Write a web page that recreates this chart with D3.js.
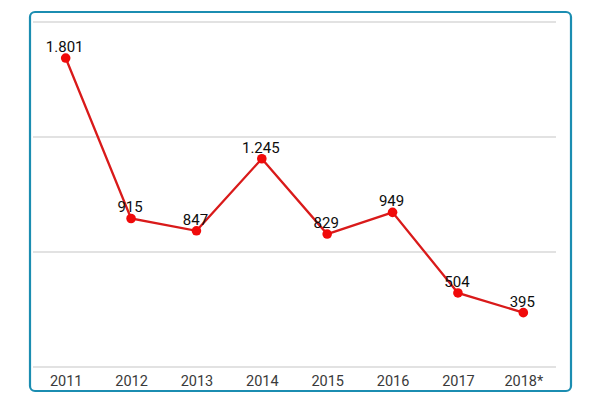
<!DOCTYPE html>
<html lang="en">
<head>
    <meta charset="UTF-8">
    <script src="https://cdn.jsdelivr.net/npm/d3@7/dist/d3.min.js"></script>
    <title>chart</title>
    <style>
        body { margin: 0; background: #fff; }
        svg text { font-family: Roboto, "Noto Sans", sans-serif; }
    </style>
</head>
<body>
    <svg id="chart" width="600" height="400"></svg>
    <script>
        const years = ['2011', '2012', '2013', '2014', '2015', '2016', '2017', '2018*'];
        const values = [1801, 915, 847, 1245, 829, 949, 504, 395];
        const valueLabels = ['1.801', '915', '847', '1.245', '829', '949', '504', '395'];
        const yDomain = [95, 2000];
        const gridCount = 4;

        const svg = d3.select('#chart');

        // frame
        svg.append('rect')
            .attr('x', 30).attr('y', 12)
            .attr('width', 541).attr('height', 379)
            .attr('rx', 5)
            .attr('fill', '#fff')
            .attr('stroke', '#1b8db1')
            .attr('stroke-width', 2.2);

        const x = d3.scalePoint().domain(years).range([33, 556]).padding(0.5);
        const y = d3.scaleLinear().domain(yDomain).range([367, 22]);

        // gridlines
        const gridVals = d3.range(gridCount).map(i => yDomain[0] + i * (yDomain[1] - yDomain[0]) / (gridCount - 1));
        svg.append('g').selectAll('line')
            .data(gridVals)
            .enter().append('line')
            .attr('x1', 33).attr('x2', 556)
            .attr('y1', d => y(d)).attr('y2', d => y(d))
            .attr('stroke', '#d9d9d9')
            .attr('stroke-width', 1.6);

        // x axis labels
        const xAxis = d3.axisBottom(x).tickSize(0).tickPadding(8);
        const gx = svg.append('g').attr('transform', 'translate(0,' + 368 + ')').call(xAxis);
        gx.select('.domain').remove();
        gx.selectAll('text')
            .attr('font-size', 14.5)
            .attr('font-weight', 400)
            .attr('fill', '#3a3a3a')
            .attr('font-family', 'Roboto, sans-serif');

        const pts = years.map((yr, i) => ({ yr: yr, v: values[i], label: valueLabels[i] }));

        svg.append('path')
            .datum(pts)
            .attr('fill', 'none')
            .attr('stroke', '#d91a1a')
            .attr('stroke-width', 2.3)
            .attr('d', d3.line().x(d => x(d.yr)).y(d => y(d.v)));

        svg.append('g').selectAll('circle')
            .data(pts)
            .enter().append('circle')
            .attr('cx', d => x(d.yr))
            .attr('cy', d => y(d.v))
            .attr('r', 4.8)
            .attr('fill', '#f00a0a');

        svg.append('g').selectAll('text')
            .data(pts)
            .enter().append('text')
            .attr('x', d => x(d.yr) - 1)
            .attr('y', d => y(d.v) - 6)
            .attr('text-anchor', 'middle')
            .attr('font-size', 15)
            .attr('font-weight', 400)
            .attr('fill', '#0d0d0d')
            .text(d => d.label);
    </script>
</body>
</html>
